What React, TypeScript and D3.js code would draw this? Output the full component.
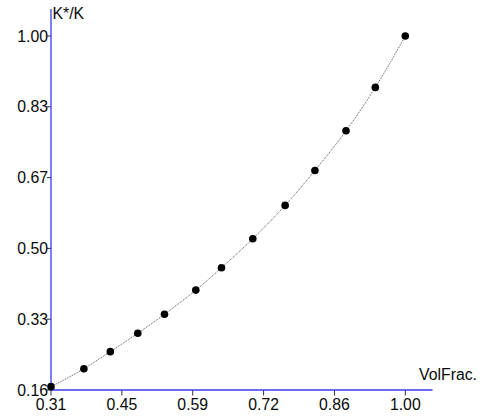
import React from "react";
import * as d3 from "d3";

const volFrac = [0.31, 0.374, 0.4255, 0.479, 0.531, 0.592, 0.642, 0.703, 0.766, 0.824, 0.8845, 0.9416, 1.0];
const kRatio = [0.168, 0.2105, 0.251, 0.2945, 0.3396, 0.397, 0.45, 0.519, 0.598, 0.681, 0.775, 0.878, 1.0];

const xTickValues = [0.31, 0.448, 0.586, 0.724, 0.862, 1.0];
const xTickLabels = ["0.31", "0.45", "0.59", "0.72", "0.86", "1.00"];
const yTickValues = [0.16, 0.328, 0.496, 0.664, 0.832, 1.0];
const yTickLabels = ["0.16", "0.33", "0.50", "0.67", "0.83", "1.00"];

const xTitle = "VolFrac.";
const yTitle = "K*/K";

export default function App() {
  const W = 488;
  const H = 420;
  const x = d3.scaleLinear().domain([0.31, 1.0]).range([51, 405.3]);
  const y = d3.scaleLinear().domain([0.16, 1.0]).range([390, 36]);
  const pts = volFrac.map((v, i) => [v, kRatio[i]] as [number, number]);
  const line = d3
    .line<[number, number]>()
    .x((d) => x(d[0]))
    .y((d) => y(d[1]))
    .curve(d3.curveMonotoneX);
  const axisColor = "#3a3af8";
  const font = "'Liberation Sans', Arial, sans-serif";
  const fs = 15.8;
  return (
    <svg
      width={W}
      height={H}
      style={{ position: "absolute", left: 0, top: 0, background: "#fff" }}
      fontFamily={font}
    >
      <rect x={0} y={0} width={W} height={H} fill="#fff" />
      {yTickValues.map((v, i) => (
        <g key={"y" + i}>
          <line x1={47} x2={51} y1={y(v)} y2={y(v)} stroke="#333" strokeWidth={1} />
          <text x={48} y={y(v)} dy="0.36em" textAnchor="end" fontSize={fs} fill="#0a0a0a">
            {yTickLabels[i]}
          </text>
        </g>
      ))}
      {xTickValues.map((v, i) => (
        <g key={"x" + i}>
          <line x1={x(v)} x2={x(v)} y1={390} y2={395.5} stroke="#333" strokeWidth={1} />
          <text x={x(v)} y={409.5} textAnchor="middle" fontSize={fs} fill="#0a0a0a">
            {xTickLabels[i]}
          </text>
        </g>
      ))}
      <line x1={51} x2={51} y1={9} y2={390.5} stroke={axisColor} strokeWidth={1.3} />
      <line x1={51} x2={432.5} y1={390} y2={390} stroke={axisColor} strokeWidth={1.3} />
      <text x={52.5} y={18.5} fontSize={fs} fill="#0a0a0a">
        {yTitle}
      </text>
      <text x={477} y={380} textAnchor="end" fontSize={fs} fill="#0a0a0a">
        {xTitle}
      </text>
      <path d={line(pts) || ""} fill="none" stroke="#555" strokeWidth={1} strokeDasharray="1,1" />
      {pts.map((d, i) => (
        <circle key={"p" + i} cx={x(d[0])} cy={y(d[1])} r={3.8} fill="#000" />
      ))}
    </svg>
  );
}
